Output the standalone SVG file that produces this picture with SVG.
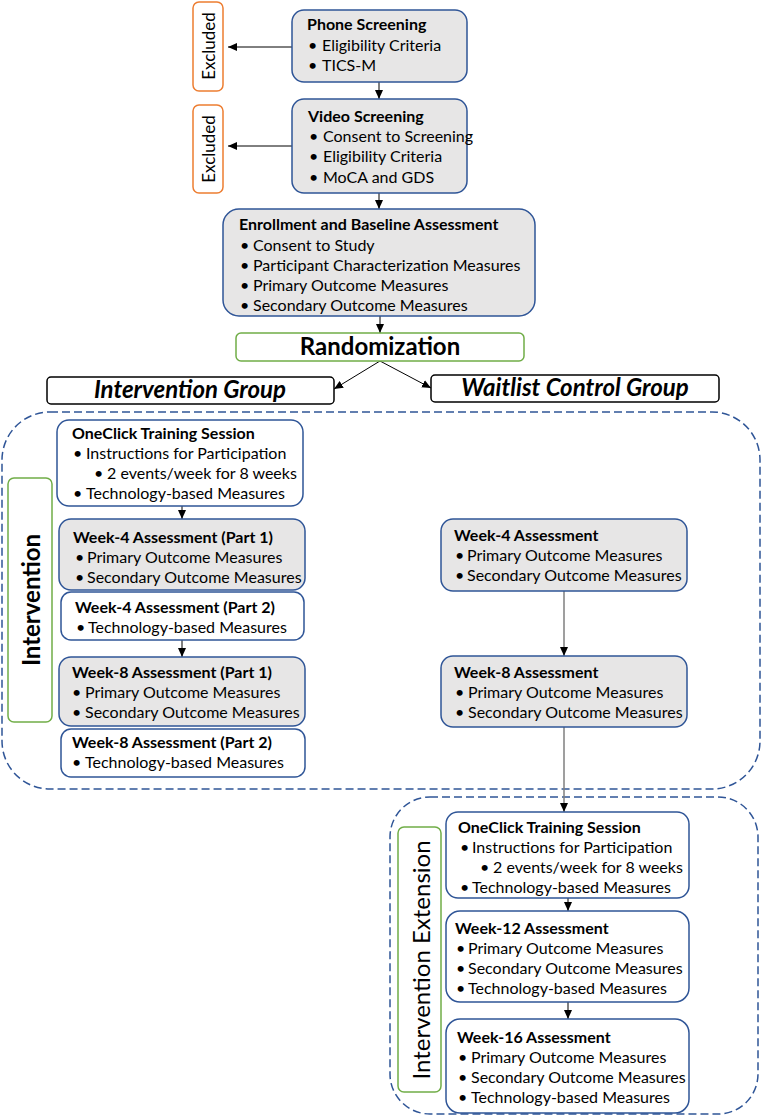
<svg xmlns="http://www.w3.org/2000/svg" width="762" height="1117" viewBox="0 0 762 1117">
<style>
.t{font-family:Lato,"Liberation Sans",sans-serif;font-size:16px;fill:#000}
.b{font-weight:bold}
.gbox{fill:#e7e6e6;stroke:#2f5597;stroke-width:1.5}
.wbox{fill:#fff;stroke:#2f5597;stroke-width:1.5}
.excl{fill:#fff;stroke:#ed7d31;stroke-width:1.5}
.lab{fill:#fff;stroke:#70ad47;stroke-width:1.5}
.grp{fill:#fff;stroke:#000;stroke-width:1.5}
.cont{fill:none;stroke:#2f5597;stroke-width:1.5;stroke-dasharray:8 4}
.c{stroke:#000;stroke-width:1;fill:none}
.cg{stroke:#7f7f7f;stroke-width:1.5;fill:none}
</style>
<defs>
<marker id="ah" markerUnits="userSpaceOnUse" markerWidth="10" markerHeight="10" refX="9" refY="5" orient="auto" viewBox="0 0 10 10">
<path d="M0,1 L9,5 L0,9 z" fill="#000"/>
</marker>
</defs>

<g id="containers">
<rect class="cont" x="2" y="412" width="758" height="377" rx="48"/>
<rect class="cont" x="390" y="797" width="368" height="317" rx="40"/>
</g>

<g id="connectors">
<line class="c" x1="379" y1="82" x2="379" y2="99" marker-end="url(#ah)"/>
<line class="c" x1="292" y1="47" x2="228" y2="47" marker-end="url(#ah)"/>
<line class="c" x1="292" y1="146" x2="228" y2="146" marker-end="url(#ah)"/>
<line class="c" x1="379" y1="193" x2="379" y2="209" marker-end="url(#ah)"/>
<line class="c" x1="380" y1="316" x2="380" y2="333" marker-end="url(#ah)"/>
<line class="c" x1="380" y1="361" x2="334" y2="389" marker-end="url(#ah)"/>
<line class="c" x1="380" y1="361" x2="431" y2="388" marker-end="url(#ah)"/>
<line class="c" x1="182" y1="506" x2="182" y2="519" marker-end="url(#ah)"/>
<line class="c" x1="182" y1="640" x2="182" y2="657" marker-end="url(#ah)"/>
<line class="cg" x1="564" y1="591" x2="564" y2="656" marker-end="url(#ah)"/>
<line class="cg" x1="564" y1="727" x2="564" y2="812" marker-end="url(#ah)"/>
<line class="c" x1="568" y1="898" x2="568" y2="911" marker-end="url(#ah)"/>
<line class="c" x1="568" y1="1002" x2="568" y2="1019" marker-end="url(#ah)"/>
</g>

<g id="excluded1">
<rect class="excl" x="193" y="2" width="30" height="89" rx="6"/>
<text class="t" transform="translate(208,46) rotate(-90)" text-anchor="middle" dominant-baseline="central" style="font-size:17px">Excluded</text>
</g>
<g id="excluded2">
<rect class="excl" x="193" y="105" width="30" height="88" rx="6"/>
<text class="t" transform="translate(208,149) rotate(-90)" text-anchor="middle" dominant-baseline="central" style="font-size:17px">Excluded</text>
</g>

<g id="phone">
<rect class="gbox" x="292" y="10" width="175" height="72" rx="12"/>
<text class="t b" x="307" y="30">Phone Screening</text>
<text class="t" y="51"><tspan x="308">•</tspan><tspan x="322">Eligibility Criteria</tspan></text>
<text class="t" y="71"><tspan x="308">•</tspan><tspan x="322">TICS-M</tspan></text>
</g>

<g id="video">
<rect class="gbox" x="292" y="99" width="175" height="94" rx="12"/>
<text class="t b" x="308" y="122">Video Screening</text>
<text class="t" y="142"><tspan x="309">•</tspan><tspan x="323">Consent to Screening</tspan></text>
<text class="t" y="162"><tspan x="309">•</tspan><tspan x="323">Eligibility Criteria</tspan></text>
<text class="t" y="183"><tspan x="309">•</tspan><tspan x="323">MoCA and GDS</tspan></text>
</g>

<g id="enrollment">
<rect class="gbox" x="223" y="209" width="312" height="107" rx="16"/>
<text class="t b" x="239" y="230">Enrollment and Baseline Assessment</text>
<text class="t" y="251"><tspan x="240">•</tspan><tspan x="253">Consent to Study</tspan></text>
<text class="t" y="271"><tspan x="240">•</tspan><tspan x="253">Participant Characterization Measures</tspan></text>
<text class="t" y="291"><tspan x="240">•</tspan><tspan x="253">Primary Outcome Measures</tspan></text>
<text class="t" y="311"><tspan x="240">•</tspan><tspan x="253">Secondary Outcome Measures</tspan></text>
</g>

<g id="randomization">
<rect class="lab" x="236" y="333" width="288" height="28" rx="5"/>
<text class="t b" x="380" y="355" text-anchor="middle" style="font-size:24px">Randomization</text>
</g>

<g id="intervention-group">
<rect class="grp" x="47" y="377" width="287" height="27" rx="4"/>
<text class="t b" x="190" y="398" text-anchor="middle" style="font-size:24px;font-style:italic">Intervention Group</text>
</g>
<g id="waitlist-group">
<rect class="grp" x="431" y="375" width="288" height="27" rx="4"/>
<text class="t b" x="575" y="396" text-anchor="middle" style="font-size:24px;font-style:italic">Waitlist Control Group</text>
</g>

<g id="intervention-label">
<rect class="lab" x="8" y="478" width="44" height="244" rx="6"/>
<text class="t b" transform="translate(30,600) rotate(-90)" text-anchor="middle" dominant-baseline="central" style="font-size:24px">Intervention</text>
</g>

<g id="iv-oneclick">
<rect class="wbox" x="57" y="420" width="246" height="86" rx="12"/>
<text class="t b" x="72" y="439">OneClick Training Session</text>
<text class="t" y="459"><tspan x="73">•</tspan><tspan x="86">Instructions for Participation</tspan></text>
<text class="t" y="479"><tspan x="94">•</tspan><tspan x="107">2 events/week for 8 weeks</tspan></text>
<text class="t" y="499"><tspan x="73">•</tspan><tspan x="86">Technology-based Measures</tspan></text>
</g>
<g id="iv-week4-p1">
<rect class="gbox" x="59" y="519" width="246" height="71" rx="12"/>
<text class="t b" x="73" y="543">Week-4 Assessment (Part 1)</text>
<text class="t" y="563"><tspan x="75">•</tspan><tspan x="87">Primary Outcome Measures</tspan></text>
<text class="t" y="583"><tspan x="75">•</tspan><tspan x="87">Secondary Outcome Measures</tspan></text>
</g>
<g id="iv-week4-p2">
<rect class="wbox" x="61" y="592" width="243" height="48" rx="10"/>
<text class="t b" x="75" y="613">Week-4 Assessment (Part 2)</text>
<text class="t" y="633"><tspan x="76">•</tspan><tspan x="88">Technology-based Measures</tspan></text>
</g>
<g id="iv-week8-p1">
<rect class="gbox" x="59" y="657" width="246" height="69" rx="12"/>
<text class="t b" x="72" y="678">Week-8 Assessment (Part 1)</text>
<text class="t" y="698"><tspan x="72">•</tspan><tspan x="85">Primary Outcome Measures</tspan></text>
<text class="t" y="718"><tspan x="72">•</tspan><tspan x="85">Secondary Outcome Measures</tspan></text>
</g>
<g id="iv-week8-p2">
<rect class="wbox" x="61" y="729" width="244" height="48" rx="10"/>
<text class="t b" x="72" y="748">Week-8 Assessment (Part 2)</text>
<text class="t" y="768"><tspan x="72">•</tspan><tspan x="85">Technology-based Measures</tspan></text>
</g>

<g id="wl-week4">
<rect class="gbox" x="441" y="519" width="246" height="72" rx="12"/>
<text class="t b" x="454" y="541">Week-4 Assessment</text>
<text class="t" y="561"><tspan x="455">•</tspan><tspan x="467">Primary Outcome Measures</tspan></text>
<text class="t" y="581"><tspan x="455">•</tspan><tspan x="467">Secondary Outcome Measures</tspan></text>
</g>
<g id="wl-week8">
<rect class="gbox" x="441" y="656" width="246" height="71" rx="12"/>
<text class="t b" x="454" y="678">Week-8 Assessment</text>
<text class="t" y="698"><tspan x="455">•</tspan><tspan x="468">Primary Outcome Measures</tspan></text>
<text class="t" y="718"><tspan x="455">•</tspan><tspan x="468">Secondary Outcome Measures</tspan></text>
</g>

<g id="extension-label">
<rect class="lab" x="398" y="827" width="43" height="265" rx="6"/>
<text class="t" transform="translate(420,960) rotate(-90)" text-anchor="middle" dominant-baseline="central" style="font-size:24px">Intervention Extension</text>
</g>

<g id="ext-oneclick">
<rect class="wbox" x="446" y="812" width="243" height="86" rx="12"/>
<text class="t b" x="458" y="833">OneClick Training Session</text>
<text class="t" y="853"><tspan x="460">•</tspan><tspan x="472">Instructions for Participation</tspan></text>
<text class="t" y="873"><tspan x="480">•</tspan><tspan x="493">2 events/week for 8 weeks</tspan></text>
<text class="t" y="893"><tspan x="460">•</tspan><tspan x="472">Technology-based Measures</tspan></text>
</g>
<g id="ext-week12">
<rect class="wbox" x="446" y="911" width="243" height="91" rx="14"/>
<text class="t b" x="455" y="934">Week-12 Assessment</text>
<text class="t" y="954"><tspan x="456">•</tspan><tspan x="468">Primary Outcome Measures</tspan></text>
<text class="t" y="974"><tspan x="456">•</tspan><tspan x="468">Secondary Outcome Measures</tspan></text>
<text class="t" y="994"><tspan x="456">•</tspan><tspan x="468">Technology-based Measures</tspan></text>
</g>
<g id="ext-week16">
<rect class="wbox" x="446" y="1019" width="243" height="94" rx="14"/>
<text class="t b" x="457" y="1043">Week-16 Assessment</text>
<text class="t" y="1063"><tspan x="458">•</tspan><tspan x="471">Primary Outcome Measures</tspan></text>
<text class="t" y="1083"><tspan x="458">•</tspan><tspan x="471">Secondary Outcome Measures</tspan></text>
<text class="t" y="1103"><tspan x="458">•</tspan><tspan x="471">Technology-based Measures</tspan></text>
</g>
</svg>
